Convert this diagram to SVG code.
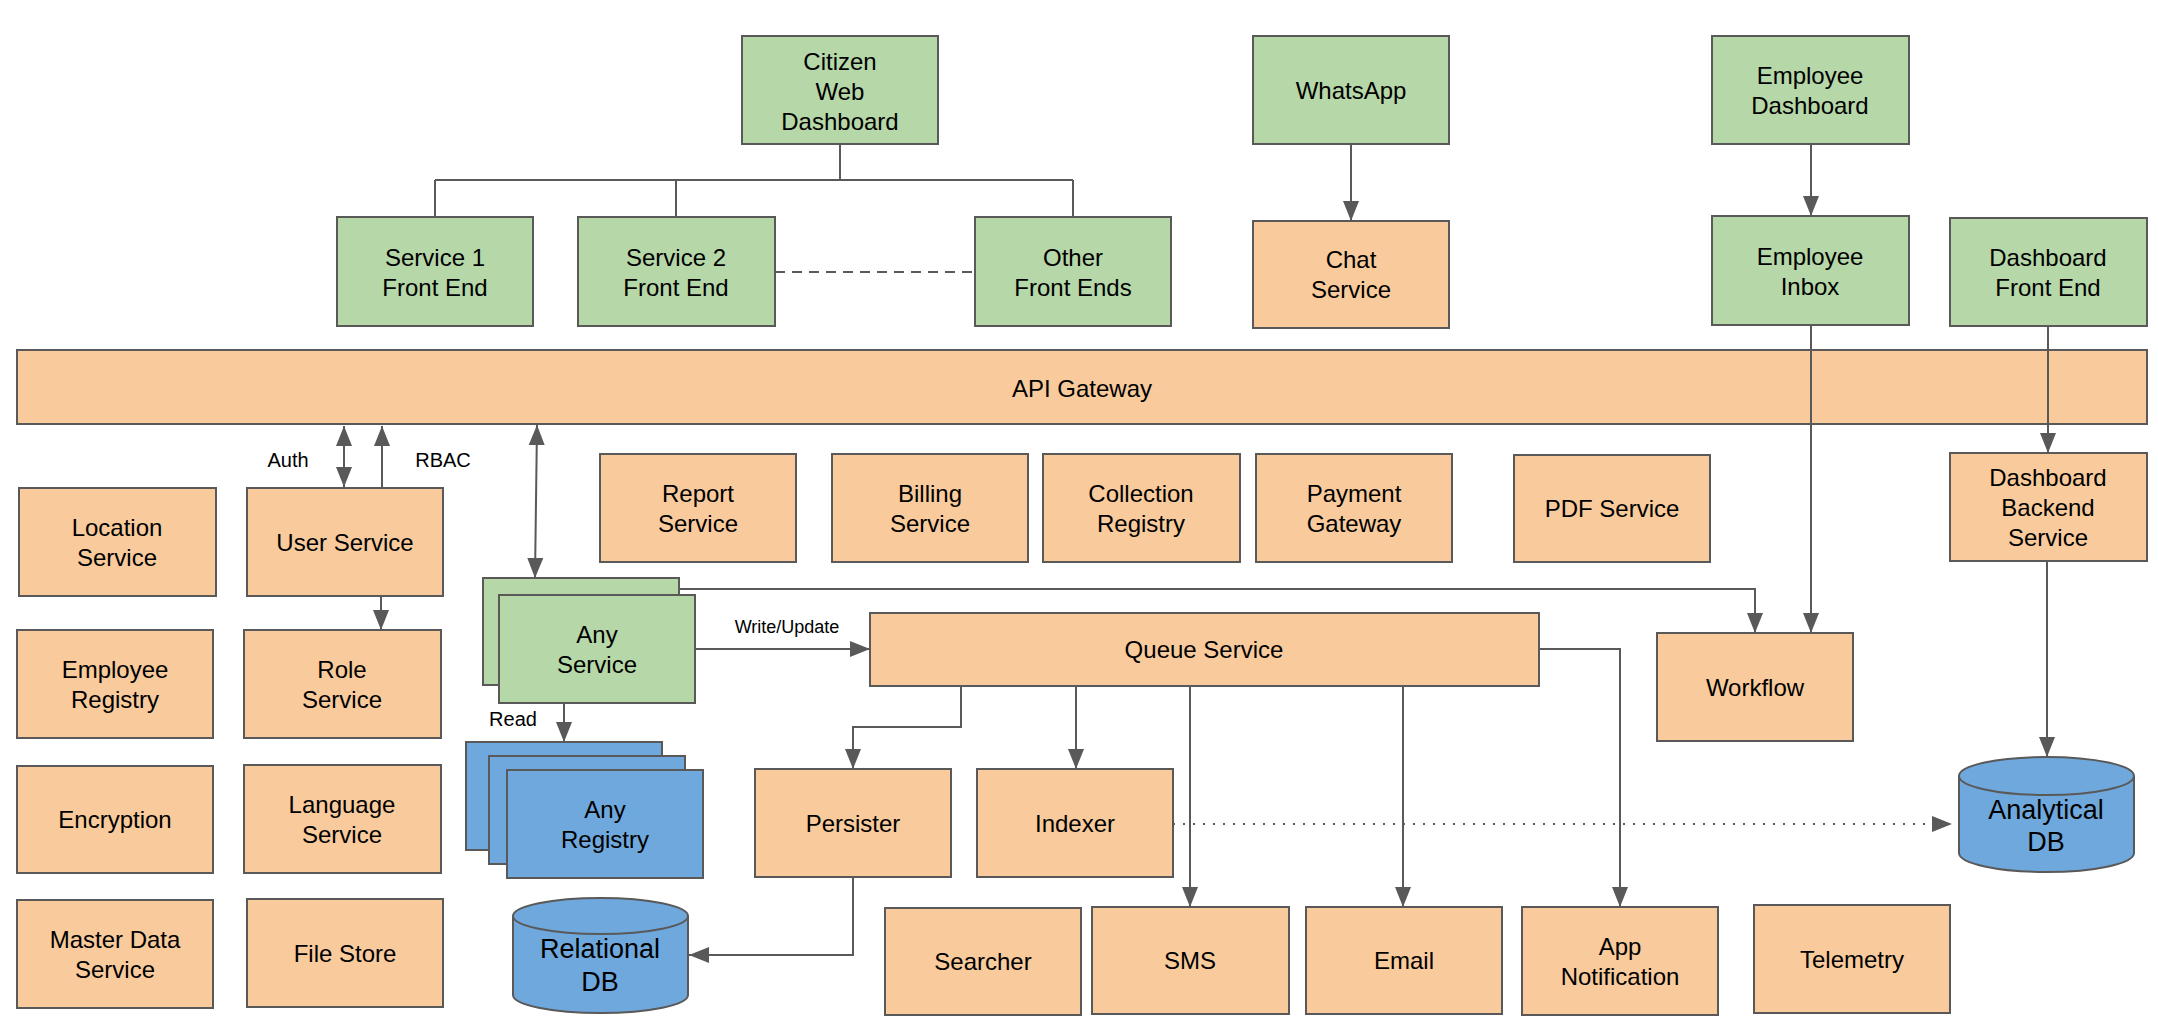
<svg xmlns="http://www.w3.org/2000/svg" width="2158" height="1032" viewBox="0 0 2158 1032">
<style>
.g{fill:#b6d7a8;stroke:#595959;stroke-width:2}
.o{fill:#f9cb9c;stroke:#595959;stroke-width:2}
.b{fill:#6fa8dc;stroke:#595959;stroke-width:2}
text{font-family:"Liberation Sans",Arial,sans-serif;font-size:24px;fill:#000;text-anchor:middle;dominant-baseline:central}
.db{font-size:27px}
.sm{font-size:20px}
.xs{font-size:18px}
.c{fill:none;stroke:#595959;stroke-width:2}
.a{marker-end:url(#ah)}
.bi{marker-start:url(#ah);marker-end:url(#ah)}
</style>
<defs>
<marker id="ah" markerUnits="userSpaceOnUse" markerWidth="20" markerHeight="16" refX="20" refY="8" orient="auto-start-reverse">
<path d="M0,0 L20,8 L0,16 Z" fill="#595959"/>
</marker>
</defs>
<rect width="2158" height="1032" fill="#fff"/>
<g id="citizen"><rect class="g" x="742" y="36" width="196" height="108"/><text x="840" y="61">Citizen</text><text x="840" y="91">Web</text><text x="840" y="121">Dashboard</text></g>
<g id="whatsapp"><rect class="g" x="1253" y="36" width="196" height="108"/><text x="1351" y="90">WhatsApp</text></g>
<g id="empdash"><rect class="g" x="1712" y="36" width="197" height="108"/><text x="1810" y="75">Employee</text><text x="1810" y="105">Dashboard</text></g>
<g id="svc1"><rect class="g" x="337" y="217" width="196" height="109"/><text x="435" y="257">Service 1</text><text x="435" y="287">Front End</text></g>
<g id="svc2"><rect class="g" x="578" y="217" width="197" height="109"/><text x="676" y="257">Service 2</text><text x="676" y="287">Front End</text></g>
<g id="other"><rect class="g" x="975" y="217" width="196" height="109"/><text x="1073" y="257">Other</text><text x="1073" y="287">Front Ends</text></g>
<g id="chat"><rect class="o" x="1253" y="221" width="196" height="107"/><text x="1351" y="259">Chat</text><text x="1351" y="289">Service</text></g>
<g id="empinbox"><rect class="g" x="1712" y="216" width="197" height="109"/><text x="1810" y="256">Employee</text><text x="1810" y="286">Inbox</text></g>
<g id="dashfe"><rect class="g" x="1950" y="218" width="197" height="108"/><text x="2048" y="257">Dashboard</text><text x="2048" y="287">Front End</text></g>
<g id="gateway"><rect class="o" x="17" y="350" width="2130" height="74"/><text x="1082" y="388">API Gateway</text></g>
<g id="location"><rect class="o" x="19" y="488" width="197" height="108"/><text x="117" y="527">Location</text><text x="117" y="557">Service</text></g>
<g id="user"><rect class="o" x="247" y="488" width="196" height="108"/><text x="345" y="542">User Service</text></g>
<g id="report"><rect class="o" x="600" y="454" width="196" height="108"/><text x="698" y="493">Report</text><text x="698" y="523">Service</text></g>
<g id="billing"><rect class="o" x="832" y="454" width="196" height="108"/><text x="930" y="493">Billing</text><text x="930" y="523">Service</text></g>
<g id="collection"><rect class="o" x="1043" y="454" width="197" height="108"/><text x="1141" y="493">Collection</text><text x="1141" y="523">Registry</text></g>
<g id="payment"><rect class="o" x="1256" y="454" width="196" height="108"/><text x="1354" y="493">Payment</text><text x="1354" y="523">Gateway</text></g>
<g id="pdf"><rect class="o" x="1514" y="455" width="196" height="107"/><text x="1612" y="508">PDF Service</text></g>
<g id="dashbackend"><rect class="o" x="1950" y="453" width="197" height="108"/><text x="2048" y="477">Dashboard</text><text x="2048" y="507">Backend</text><text x="2048" y="537">Service</text></g>
<g id="empreg"><rect class="o" x="17" y="630" width="196" height="108"/><text x="115" y="669">Employee</text><text x="115" y="699">Registry</text></g>
<g id="role"><rect class="o" x="244" y="630" width="197" height="108"/><text x="342" y="669">Role</text><text x="342" y="699">Service</text></g>
<g id="anyservice"><rect class="g" x="483" y="578" width="196" height="107"/><rect class="g" x="499" y="595" width="196" height="108"/><text x="597" y="634">Any</text><text x="597" y="664">Service</text></g>
<g id="queue"><rect class="o" x="870" y="613" width="669" height="73"/><text x="1204" y="649">Queue Service</text></g>
<g id="workflow"><rect class="o" x="1657" y="633" width="196" height="108"/><text x="1755" y="687">Workflow</text></g>
<g id="encryption"><rect class="o" x="17" y="766" width="196" height="107"/><text x="115" y="819">Encryption</text></g>
<g id="language"><rect class="o" x="244" y="765" width="197" height="108"/><text x="342" y="804">Language</text><text x="342" y="834">Service</text></g>
<g id="anyregistry"><rect class="b" x="466" y="742" width="196" height="108"/><rect class="b" x="489" y="756" width="196" height="108"/><rect class="b" x="507" y="770" width="196" height="108"/><text x="605" y="809">Any</text><text x="605" y="839">Registry</text></g>
<g id="persister"><rect class="o" x="755" y="769" width="196" height="108"/><text x="853" y="823">Persister</text></g>
<g id="indexer"><rect class="o" x="977" y="769" width="196" height="108"/><text x="1075" y="823">Indexer</text></g>
<g id="analyticaldb"><path class="b" d="M1959,776 A87.5,19 0 0,1 2134,776 L2134,853 A87.5,19 0 0,1 1959,853 Z"/><path class="c" d="M1959,776 A87.5,19 0 0,0 2134,776"/><text class="db" x="2046" y="810">Analytical</text><text class="db" x="2046" y="842">DB</text></g>
<g id="masterdata"><rect class="o" x="17" y="900" width="196" height="108"/><text x="115" y="939">Master Data</text><text x="115" y="969">Service</text></g>
<g id="filestore"><rect class="o" x="247" y="899" width="196" height="108"/><text x="345" y="953">File Store</text></g>
<g id="relationaldb"><path class="b" d="M513,916 A87.5,18 0 0,1 688,916 L688,995 A87.5,18 0 0,1 513,995 Z"/><path class="c" d="M513,916 A87.5,18 0 0,0 688,916"/><text class="db" x="600" y="949">Relational</text><text class="db" x="600" y="982">DB</text></g>
<g id="searcher"><rect class="o" x="885" y="908" width="196" height="107"/><text x="983" y="961">Searcher</text></g>
<g id="sms"><rect class="o" x="1092" y="907" width="197" height="107"/><text x="1190" y="960">SMS</text></g>
<g id="email"><rect class="o" x="1306" y="907" width="196" height="107"/><text x="1404" y="960">Email</text></g>
<g id="appnotif"><rect class="o" x="1522" y="907" width="196" height="108"/><text x="1620" y="946">App</text><text x="1620" y="976">Notification</text></g>
<g id="telemetry"><rect class="o" x="1754" y="905" width="196" height="108"/><text x="1852" y="959">Telemetry</text></g>
<g id="connectors">
<path class="c" d="M840,144 V180 M435,180 H1073 M435,180 V217 M676,180 V217 M1073,180 V217"/>
<path class="c" d="M775,272 H975" stroke-dasharray="10 7"/>
<path class="c a" d="M1351,144 V221"/>
<path class="c a" d="M1811,144 V216"/>
<path class="c a" d="M1811,325 V633"/>
<path class="c a" d="M2048,326 V453"/>
<path class="c bi" d="M344,426 V487"/>
<path class="c a" d="M382,487 V426"/>
<path class="c bi" d="M537,425 L535,578"/>
<path class="c a" d="M381,596 V630"/>
<path class="c a" d="M679,589 H1755 V633"/>
<path class="c a" d="M695,649 H870"/>
<path class="c a" d="M564,703 V742"/>
<path class="c a" d="M961,686 V727 H853 V769"/>
<path class="c a" d="M1076,686 V769"/>
<path class="c a" d="M1190,686 V907"/>
<path class="c a" d="M1403,686 V907"/>
<path class="c a" d="M1539,649 H1620 V907"/>
<path class="c a" d="M853,877 V955 H689"/>
<path class="c a" d="M1173,824 H1952" stroke-dasharray="2 8"/>
<path class="c a" d="M2047,561 V757"/>
<text class="sm" x="288" y="460">Auth</text>
<text class="sm" x="443" y="460">RBAC</text>
<text class="sm" x="513" y="719">Read</text>
<text class="xs" x="787" y="627">Write/Update</text>
</g>
</svg>
